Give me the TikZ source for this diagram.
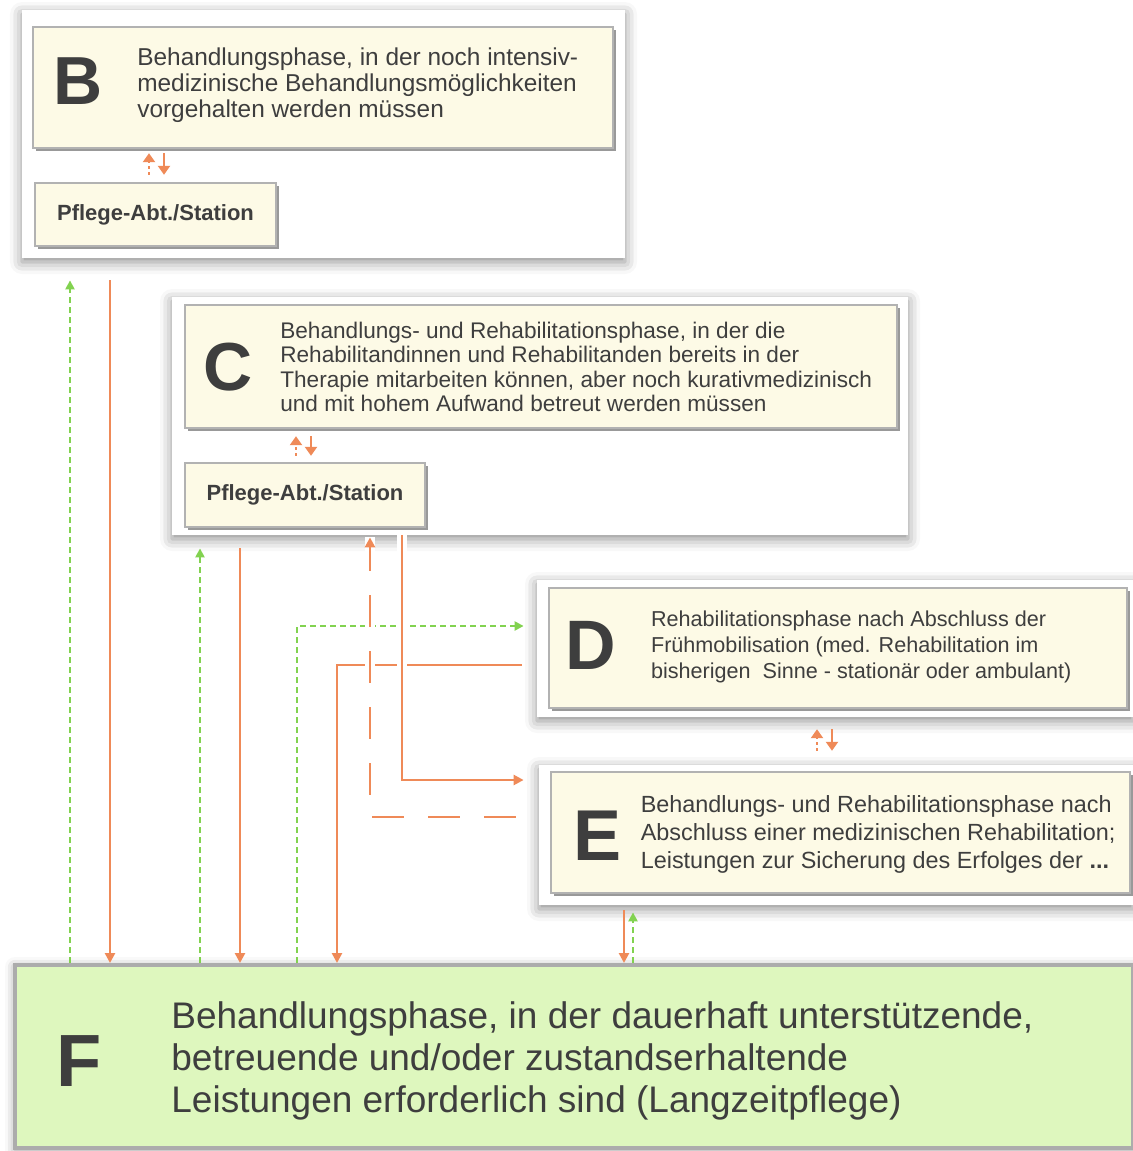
\documentclass[tikz,border=0pt]{standalone}
\usepackage{fontspec}
\setmainfont{Liberation Sans}
\usetikzlibrary{positioning, arrows.meta, shadows, shadows.blur}
\definecolor{cream}{RGB}{253,250,230}
\definecolor{paleGreen}{RGB}{222,247,190}
\definecolor{rimGray}{RGB}{178,178,178}
\definecolor{inkGray}{RGB}{62,62,62}
\definecolor{flowOrange}{RGB}{239,138,88}
\definecolor{flowGreen}{RGB}{130,210,80}

\begin{document}
\begin{tikzpicture}[x=0.5pt, y=-0.5pt,
  PanelStyle/.style={fill=white, inner sep=0pt,
    blur shadow={shadow xshift=0pt, shadow yshift=-2pt, shadow blur radius=6pt, shadow opacity=45}},
  BoxStyle/.style={fill=cream, draw=rimGray, line width=1.2pt, inner sep=0pt,
    drop shadow={shadow xshift=1.3pt, shadow yshift=-1.3pt, fill=gray!80, opacity=1}},
  FinalStyle/.style={fill=paleGreen, draw=gray!65, line width=2pt, inner sep=0pt,
    blur shadow={shadow xshift=0pt, shadow yshift=-1pt, shadow blur radius=5pt, shadow opacity=40}},
  StationStyle/.style={BoxStyle, text=inkGray, minimum width=120pt, minimum height=31.5pt,
    font=\bfseries\fontsize{11}{13}\selectfont},
  LetterStyle/.style={text=inkGray, inner sep=0pt, font=\bfseries\fontsize{#1}{#1}\selectfont},
  PhaseText/.style 2 args={text=inkGray, inner sep=0pt, align=left,
    font=\fontsize{#1}{#2}\selectfont},
  OrangeLine/.style={draw=flowOrange, line width=1.4pt, -{Triangle[length=5pt, width=5pt]}},
  GreenLine/.style={draw=flowGreen, line width=1.4pt, dash pattern=on 3pt off 2pt,
    -{Triangle[length=4.5pt, width=4.5pt]}},
  LongDash/.style={OrangeLine, dash pattern=on 16pt off 12pt},
  Halo/.style={preaction={draw=white, line width=5pt, solid, -}},
  TinyLink/.style={draw=flowOrange, line width=1.4pt, -{Triangle[length=4.5pt, width=6pt]}}]

  \useasboundingbox (0,0) rectangle (1133,1151);

  % panels
  \node[PanelStyle, minimum width=301.5pt, minimum height=124pt] (panelB) at (323.5,134) {};
  \node[PanelStyle, minimum width=368pt, minimum height=119pt] (panelC) at (540,416) {};
  \node[PanelStyle, minimum width=298pt, minimum height=68.5pt] (panelD) at (835,648.5) {};
  \node[PanelStyle, minimum width=297pt, minimum height=70pt] (panelE) at (836,835) {};

  % phase B
  \node[BoxStyle, minimum width=290pt, minimum height=60.5pt] (boxB) at (323,87.5) {};
  \node[LetterStyle=34] (letB) at (78,81) {B};
  \node[PhaseText={12.2}{13}, right=17pt of letB, yshift=-2pt] (txtB)
    {Behandlungsphase, in der noch intensiv-\\medizinische Behandlungsmöglichkeiten\\vorgehalten werden müssen};
  \node[StationStyle, minimum width=120.5pt] (pflB) at (155.5,214.5) {Pflege-Abt./Station};

  % phase C
  \node[BoxStyle, minimum width=356pt, minimum height=61.5pt] (boxC) at (541,366.5) {};
  \node[LetterStyle=34] (letC) at (228,367) {C};
  \node[PhaseText={11.3}{12.25}, right=13.5pt of letC] (txtC)
    {Behandlungs- und Rehabilitationsphase, in der die\\Rehabilitandinnen und Rehabilitanden bereits in der\\Therapie mitarbeiten können, aber noch kurativmedizinisch\\und mit hohem Aufwand betreut werden müssen};
  \node[StationStyle, minimum height=32pt] (pflC) at (305,495) {Pflege-Abt./Station};

  % phase D
  \node[BoxStyle, minimum width=289pt, minimum height=60pt] (boxD) at (838,648) {};
  \node[LetterStyle=35] (letD) at (591,645) {D};
  \node[PhaseText={10.8}{13.2}, right=17pt of letD, yshift=-1pt] (txtD)
    {Rehabilitationsphase nach Abschluss der\\Frühmobilisation (med. Rehabilitation im\\bisherigen~ Sinne - stationär oder ambulant)};

  % phase E
  \node[BoxStyle, minimum width=289.5pt, minimum height=60.5pt] (boxE) at (840.5,832.5) {};
  \node[LetterStyle=36] (letE) at (598,836) {E};
  \node[PhaseText={11.7}{14}, right=9pt of letE, yshift=1pt] (txtE)
    {Behandlungs- und Rehabilitationsphase nach\\Abschluss einer medizinischen Rehabilitation;\\Leistungen zur Sicherung des Erfolges der \textbf{...}};

  % phase F
  \node[FinalStyle, minimum width=559pt, minimum height=91.5pt] (boxF) at (574,1056.5) {};
  \node[LetterStyle=37] (letF) at (79,1061) {F};
  \node[PhaseText={18.5}{21}, right=34.5pt of letF] (txtF)
    {Behandlungsphase, in der dauerhaft unterstützende,\\betreuende und/oder zustandserhaltende\\Leistungen erforderlich sind (Langzeitpflege)};

  % lanes of the connectors
  \coordinate (gB) at (70,0);    \coordinate (oB) at (110,0);
  \coordinate (gC) at (200,0);   \coordinate (oC) at (240,0);
  \coordinate (gD) at (297,626); \coordinate (oD) at (337,665);
  \coordinate (back) at (370,817); \coordinate (oE) at (402,780);
  \coordinate (oF) at (624,0);   \coordinate (gF) at (633,0);
  \coordinate (iB1) at (149,0);  \coordinate (iB2) at (164,0);
  \coordinate (iC1) at (296,0);  \coordinate (iC2) at (311,0);
  \coordinate (iD1) at (817,0);  \coordinate (iD2) at (832,0);

  % small up/down pairs
  \draw[TinyLink, dash pattern=on 1.5pt off 1.5pt, shorten <=3.5pt, shorten >=2pt] (iB1 |- pflB.north) -- (iB1 |- boxB.south);
  \draw[TinyLink, shorten <=2pt, shorten >=3.5pt] (iB2 |- boxB.south) -- (iB2 |- pflB.north);
  \draw[TinyLink, dash pattern=on 1.5pt off 1.5pt, shorten <=3pt, shorten >=3.5pt] (iC1 |- pflC.north) -- (iC1 |- boxC.south);
  \draw[TinyLink, shorten <=3.5pt, shorten >=3pt] (iC2 |- boxC.south) -- (iC2 |- pflC.north);
  \draw[TinyLink, dash pattern=on 1.5pt off 1.5pt, shorten <=10pt, shorten >=10pt] (iD1 |- boxE.north) -- (iD1 |- boxD.south);
  \draw[TinyLink, shorten <=10pt, shorten >=10pt] (iD2 |- boxD.south) -- (iD2 |- boxE.north);

  % connectors to and from F
  \draw[GreenLine, shorten >=11pt] (gB |- boxF.north) -- (gB |- panelB.south);
  \draw[OrangeLine, shorten <=11pt] (oB |- panelB.south) -- (oB |- boxF.north);
  \draw[GreenLine, shorten >=6.5pt] (gC |- boxF.north) -- (gC |- panelC.south);
  \draw[OrangeLine, shorten <=6.5pt] (oC |- panelC.south) -- (oC |- boxF.north);
  \draw[GreenLine, shorten >=6.5pt] (gD |- boxF.north) -- (gD) -- (gD -| panelD.west);
  \draw[OrangeLine, shorten <=7.5pt] (oD -| panelD.west) -- (oD) -- (oD |- boxF.north);
  \draw[LongDash, Halo, shorten <=11.5pt, shorten >=1pt] (back -| panelE.west) -- (back) -- (back |- panelC.south);
  \draw[OrangeLine, Halo, shorten >=7.5pt] (oE |- panelC.south) -- (oE) -- (oE -| panelE.west);
  \draw[OrangeLine, shorten <=2.5pt] (oF |- panelE.south) -- (oF |- boxF.north);
  \draw[GreenLine, shorten >=3.5pt] (gF |- boxF.north) -- (gF |- panelE.south);
\end{tikzpicture}
\end{document}
